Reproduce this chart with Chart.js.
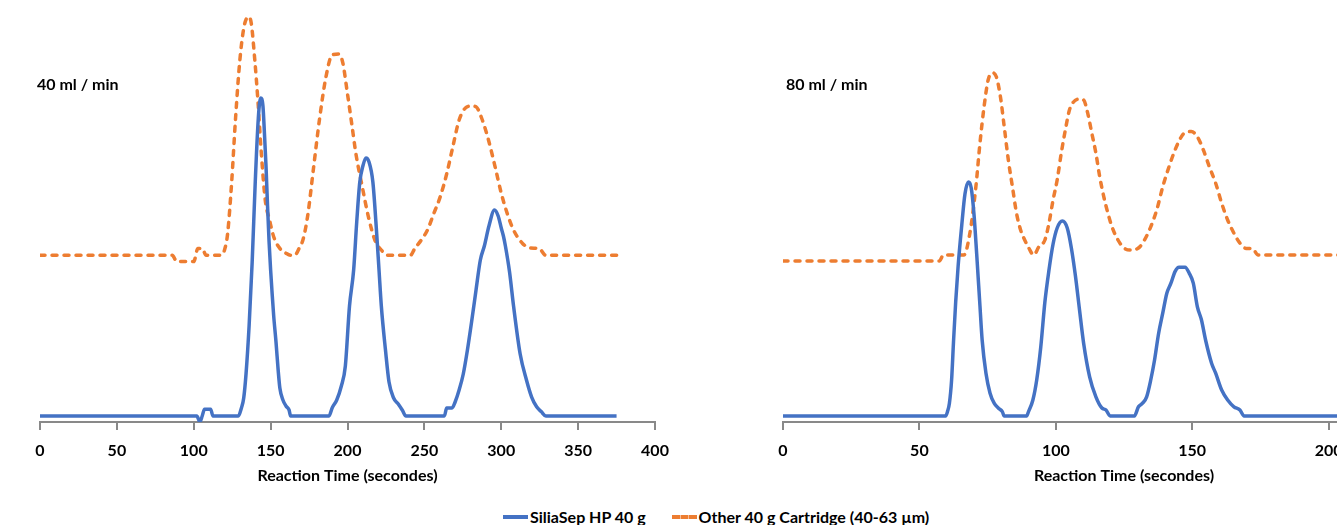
<!DOCTYPE html>
<html>
<head>
<meta charset="utf-8">
<script src="https://cdn.jsdelivr.net/npm/chart.js"></script>
<style>
  html, body { margin: 0; padding: 0; background: #fff; width: 1337px; height: 525px; overflow: hidden; }
  #left { position: absolute; left: 0; top: 0; }
  #right { position: absolute; left: 700px; top: 0; }
  #legend { position: absolute; top: 505px; left: 503px; font: bold 16px Lato, sans-serif; color: #000; white-space: nowrap; }
  #legend span { display: inline-block; vertical-align: middle; }
  .sw { width: 25px; height: 0; margin-right: 2px; }
</style>
</head>
<body>
<canvas id="left" width="690" height="488"></canvas>
<canvas id="right" width="800" height="488"></canvas>
<div id="legend">
  <span class="sw" style="border-top:4px solid #4472C4"></span><span>SiliaSep HP 40 g</span>
  <span class="sw" style="border-top:4px dashed #ED7D31;margin-left:22px"></span><span>Other 40 g Cartridge (40-63 µm)</span>
</div>
<script>
// 40 ml / min
const time40Blue = [0,102,104,105.5,107,111,112.5,129,131,132.5,134,136,138,140,142,143.5,145,146,147,148,149,150,151,152,153.5,155,156,158,160,162,163,188,190,193,196,198.6,201.3,204,206,208,210,212,214,216.5,219,220.5,222,224.7,227,230,233,235.6,238,263,264.5,268,270,272.6,275.3,278,280.7,283.6,286.4,289,292,295.6,298,300,301.4,302.7,305.4,308,312.3,316.4,319.7,323,326,329,375];
const blue40 = [1.5,1.5,0,1.5,3.2,3.2,1.5,1.5,3.5,6,12,24,40,60,76,81,79,72,64,54,45,38,32,26.5,20,12.5,8.5,5.5,4,3,1.5,1.5,3.5,5.5,9,14,29,38,50,60,64,66,65,60,47,38,29,18,10,6,4.5,3,1.5,1.5,3.5,3.5,5,8,12,18,25,33,40.5,44,49,53,51.5,48.5,46.5,44,37.5,29,17,10.5,6.3,3.8,2.6,1.5,1.5];
const time40Orange = [0,86,89,100,102.7,105.5,108,117.8,120,122,124.6,127.2,130,132.7,135.6,137.4,139.7,141.7,143.8,146.5,149.3,152,156,160,163,165.7,168.5,171,174,178,182,186,190,194.5,197,200,202.7,205.5,209.6,213.6,217.8,222,226,241,243.8,248,252,256,260.3,264.5,268.5,272.6,276.7,280.8,283.6,287.7,291.7,296,300,304,308,313.7,319,324.6,328.8,375.4];
const orange40 = [41.7,41.7,40.1,40.1,43.4,43.4,41.7,41.7,43,47,59.6,76,90.5,98.8,101.3,99.7,90.5,80.5,68,55.5,50.5,46.3,43.4,42.2,41.7,41.7,43.4,45.5,51.3,63.8,76.3,86.3,91.75,92,89.7,82,74.7,67,58.8,51.3,45.5,43,41.7,41.7,43.4,45.5,48,52,56.3,62,68.8,75.5,78.5,79,78.8,75.5,70.5,63.8,57.2,52,48,44.7,43.5,43.4,41.7,41.7];

// 80 ml / min
const time80Blue = [0,59.6,60.3,61,61.8,62.5,63.3,64.2,65.5,66.7,68,69,70,71,72.2,73,74.4,75.9,77.4,78.9,80.4,81.1,89.3,90,91.6,93,94.5,96,97.5,99,100.5,102.4,104.2,105.7,107.2,108.7,110.2,112.4,114.7,116.9,118.4,119.9,128.8,130.3,131.8,133.3,134.8,136.2,137.7,139.2,140.7,142.2,143.7,145.2,147.4,148.9,150.4,151.9,153.4,154.9,157.1,158.6,160.8,163,165.3,167.5,169,210];
const blue80 = [1.5,1.5,2.6,4.7,10.5,20,30,39,49,57,60,58.5,52,42,29,20.5,12.2,7.2,4.7,3.5,2.6,1.5,1.5,2.6,5.5,10.5,18.8,30,38,44.5,48.5,50.25,48.5,43.5,36.5,28,19.7,11.3,6.3,3.5,3,1.5,1.5,3.8,4.7,6.3,10.5,15.5,22.2,27.2,32.2,34.7,37.6,38.7,38.7,37.2,34.7,28.8,25.5,20.5,14.7,12.2,8,5.5,3.8,3,1.5,1.5];
const time80Orange = [0,57.3,58.8,66.3,68.5,70.7,72.2,73.7,75.2,76.7,78.2,79.7,81.1,82.6,84.1,85.6,87.1,88.6,90.1,91.9,93.8,96,97.5,99,100.5,102,103.5,105,106.5,108.7,110.2,111.7,113.2,114.7,116.1,117.6,119.1,120.6,122.8,125,127.3,130.3,132.5,134.8,137,139.2,141.5,143.7,146,147.4,149.7,151.9,154.1,156.3,158.6,160.8,163,165.3,167.5,169.7,172,174.2,210];
const orange80 = [40.25,40.25,41.75,41.75,47.2,58.8,69.7,78.8,85.5,87.3,86.3,81.3,73.8,65.5,58.8,52.2,48,45.5,43.5,41.75,43.8,45.5,49.7,55.5,60.5,67.2,73,78,80,80.75,80.5,77.2,72.2,67.2,61.3,56.3,52.2,48.8,45.5,43.5,43,43.5,45.5,48.8,53,58.8,63.8,68,71.3,72.4,72.6,71.3,68,63.8,59.7,54.7,50.5,47.2,44.7,43.4,43.4,41.75,41.75];

const xTitle = 'Reaction Time (secondes)';
const FONT = 'Lato, sans-serif';

function pts(xs, ys) {
  return xs.map((x, i) => ({ x: x, y: ys[i] }));
}

const rateLabel = {
  id: 'rateLabel',
  afterDraw(chart, args, opts) {
    const ctx = chart.ctx;
    ctx.save();
    ctx.font = 'bold 16px ' + FONT;
    ctx.fillStyle = '#000';
    ctx.textBaseline = 'middle';
    ctx.fillText(opts.text, chart.chartArea.left + opts.dx, 85);
    ctx.restore();
  }
};

function makeChart(id, xs1, ys1, xs2, ys2, xmax, label, padL, padR, dx) {
  return new Chart(document.getElementById(id), {
    type: 'line',
    data: {
      datasets: [{
        label: 'SiliaSep HP 40 g',
        data: pts(xs1, ys1),
        borderColor: '#4472C4',
        borderWidth: 3.5,
        pointRadius: 0,
        cubicInterpolationMode: 'monotone'
      }, {
        label: 'Other 40 g Cartridge (40-63 µm)',
        data: pts(xs2, ys2),
        borderColor: '#ED7D31',
        borderWidth: 3.5,
        borderDash: [5, 7],
        borderCapStyle: 'round',
        pointRadius: 0,
        cubicInterpolationMode: 'monotone'
      }]
    },
    options: {
      responsive: false,
      animation: false,
      layout: { padding: { left: padL, right: padR, top: 2, bottom: 0 } },
      plugins: {
        legend: { display: false },
        tooltip: { enabled: false },
        rateLabel: { text: label, dx: dx }
      },
      scales: {
        x: {
          type: 'linear',
          min: 0,
          max: xmax,
          afterFit(scale) { scale.height = 66; },
          border: { color: '#898989', width: 2 },
          grid: { drawOnChartArea: false, drawTicks: true, tickLength: 8, color: '#898989', lineWidth: 2 },
          ticks: { stepSize: 50, padding: 11, color: '#000', font: { family: FONT, size: 16, weight: 'bold' } },
          title: { display: true, text: xTitle, color: '#000', padding: { top: 0, bottom: 3 }, font: { family: FONT, size: 16, weight: 'bold' } }
        },
        y: { display: false, min: 0, max: 105 }
      }
    },
    plugins: [rateLabel]
  });
}

makeChart('left', time40Blue, blue40, time40Orange, orange40, 400, '40 ml / min', 40, 35, -3);
makeChart('right', time80Blue, blue80, time80Orange, orange80, 250, '80 ml / min', 83, 35, 3);
</script>
</body>
</html>
